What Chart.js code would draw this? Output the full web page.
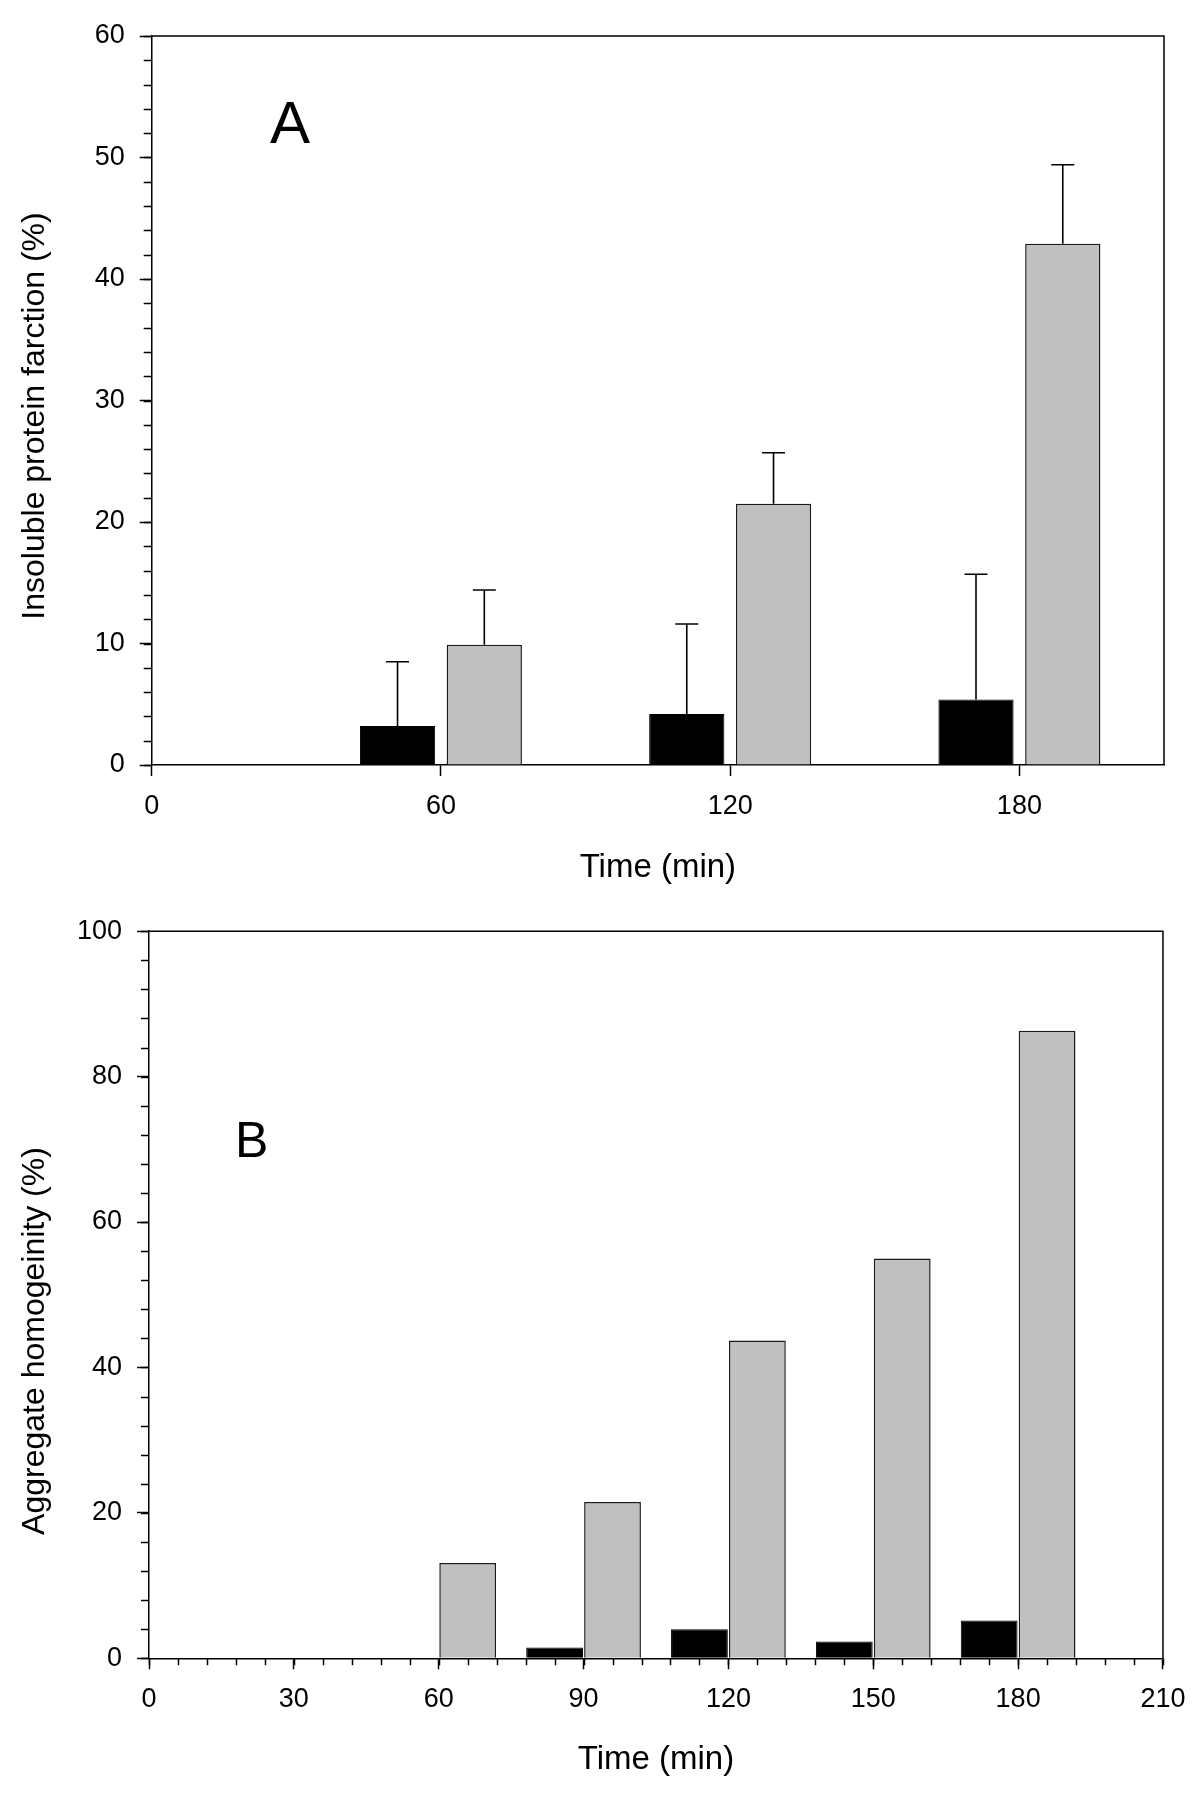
<!DOCTYPE html>
<html>
<head>
<meta charset="utf-8">
<script src="https://cdn.jsdelivr.net/npm/chart.js@4.4.1/dist/chart.umd.min.js"></script>
<style>
  body { margin: 0; background: #fff; }
  .panel { position: absolute; left: 0; width: 1200px; }
  #boxA { top: 0; height: 900px; }
  #boxB { top: 900px; height: 902px; }
</style>
</head>
<body>
<div class="panel" id="boxA"><canvas id="chartA" width="1200" height="900"></canvas></div>
<div class="panel" id="boxB"><canvas id="chartB" width="1200" height="902"></canvas></div>
<script>
// Panel A - insoluble protein fraction
const timesA = [60, 120, 180];
const blackA = [3.2, 4.2, 5.4];
const blackErrA = [5.3, 7.4, 10.3];
const grayA = [9.9, 21.5, 42.9];
const grayErrA = [4.5, 4.2, 6.5];

// Panel B - aggregate homogeneity
const timesB = [60, 90, 120, 150, 180];
const blackB = [null, 1.5, 4.0, 2.3, 5.2];
const grayB = [13.1, 21.5, 43.7, 55.0, 86.3];

const FONT = '"Liberation Sans", Arial, Helvetica, sans-serif';

// error bars (upper half only)
const errorBars = {
    id: 'errorBars',
    afterDatasetsDraw(chart) {
        const ctx = chart.ctx;
        const y = chart.scales.y;
        chart.data.datasets.forEach((ds, di) => {
            if (!ds.errors) return;
            chart.getDatasetMeta(di).data.forEach((bar, i) => {
                const v = ds.data[i].y;
                if (v == null) return;
                const top = y.getPixelForValue(v + ds.errors[i]);
                ctx.save();
                ctx.strokeStyle = '#000';
                ctx.lineWidth = 1.6;
                ctx.beginPath();
                ctx.moveTo(bar.x, bar.y);
                ctx.lineTo(bar.x, top);
                ctx.moveTo(bar.x - 11.5, top);
                ctx.lineTo(bar.x + 11.5, top);
                ctx.stroke();
                ctx.restore();
            });
        });
    }
};

// top/right frame, minor ticks, y title and panel letter
const frame = {
    id: 'frame',
    afterDraw(chart, args, opts) {
        const ctx = chart.ctx;
        const a = chart.chartArea;
        const sx = chart.scales.x, sy = chart.scales.y;
        ctx.save();
        ctx.strokeStyle = '#000';
        ctx.lineWidth = 1.5;
        ctx.beginPath();
        ctx.moveTo(a.left, a.top);
        ctx.lineTo(a.right, a.top);
        ctx.lineTo(a.right, a.bottom);
        ctx.stroke();

        ctx.beginPath();
        if (opts.yMinor) {
            for (let v = sy.min; v <= sy.max + 1e-9; v += opts.yMinor) {
                const p = Math.round(sy.getPixelForValue(v)) + 0.5;
                ctx.moveTo(a.left, p);
                ctx.lineTo(a.left - 8, p);
            }
        }
        if (opts.xMinor) {
            for (let v = sx.min; v <= sx.max + 1e-9; v += opts.xMinor) {
                const p = Math.round(sx.getPixelForValue(v)) + 0.5;
                ctx.moveTo(p, a.bottom);
                ctx.lineTo(p, a.bottom + 7);
            }
        }
        ctx.stroke();

        ctx.fillStyle = '#000';
        ctx.save();
        ctx.translate(opts.titleX, opts.titleY);
        ctx.rotate(-Math.PI / 2);
        ctx.font = '32px ' + FONT;
        ctx.textAlign = 'center';
        ctx.textBaseline = 'middle';
        ctx.fillText(opts.yTitle, 0, 0);
        ctx.restore();

        ctx.font = opts.letterSize + 'px ' + FONT;
        ctx.textAlign = 'left';
        ctx.textBaseline = 'alphabetic';
        ctx.fillText(opts.letter, opts.letterX, opts.letterY);
        ctx.restore();
    }
};

function axisX(step, bounds, tickPad, titlePad, height) {
    return {
        type: 'linear',
        min: 0,
        max: 210,
        offset: false,
        ticks: {
            stepSize: step,
            includeBounds: bounds,
            color: '#000',
            font: { family: FONT, size: 27 },
            padding: tickPad,
            maxRotation: 0,
            autoSkip: false
        },
        grid: { drawOnChartArea: false, offset: false, tickLength: 11, tickWidth: 1.5, tickColor: '#000' },
        border: { color: '#000', width: 1.5 },
        title: {
            display: true,
            text: 'Time (min)',
            color: '#000',
            font: { family: FONT, size: 33 },
            padding: { top: 0, bottom: titlePad }
        },
        afterFit: s => { s.height = height; }
    };
}

function axisY(max, step, width) {
    return {
        min: 0,
        max: max,
        ticks: {
            stepSize: step,
            color: '#000',
            font: { family: FONT, size: 27 },
            padding: 15
        },
        grid: { drawOnChartArea: false, tickLength: 12, tickWidth: 1.5, tickColor: '#000' },
        border: { color: '#000', width: 1.5 },
        afterFit: s => { s.width = width; }
    };
}

const chartA = new Chart(document.getElementById('chartA'), {
    type: 'bar',
    data: {
        datasets: [{
            data: timesA.map((t, i) => ({ x: t, y: blackA[i] })),
            errors: blackErrA,
            backgroundColor: '#000',
            borderColor: '#000',
            borderWidth: 1,
            categoryPercentage: 0.6,
            barPercentage: 0.867
        }, {
            data: timesA.map((t, i) => ({ x: t, y: grayA[i] })),
            errors: grayErrA,
            backgroundColor: '#c0c0c0',
            borderColor: '#1a1a1a',
            borderWidth: 1.5,
            categoryPercentage: 0.6,
            barPercentage: 0.867
        }]
    },
    options: {
        responsive: false,
        animation: false,
        layout: { padding: { top: 36, right: 36, left: 0, bottom: 0 } },
        scales: {
            x: axisX(60, false, 14, 12.7, 135),
            y: axisY(60, 10, 151.7)
        },
        plugins: {
            legend: { display: false },
            tooltip: { enabled: false },
            frame: {
                yMinor: 2, xMinor: 0,
                yTitle: 'Insoluble protein farction (%)', titleX: 35, titleY: 416,
                letter: 'A', letterSize: 60, letterX: 270, letterY: 143
            }
        }
    },
    plugins: [errorBars, frame]
});

const chartB = new Chart(document.getElementById('chartB'), {
    type: 'bar',
    data: {
        datasets: [{
            data: timesB.map((t, i) => ({ x: t, y: blackB[i] })),
            backgroundColor: '#000',
            borderColor: '#000',
            borderWidth: 1,
            categoryPercentage: 0.8,
            barPercentage: 0.98
        }, {
            data: timesB.map((t, i) => ({ x: t, y: grayB[i] })),
            backgroundColor: '#c0c0c0',
            borderColor: '#1a1a1a',
            borderWidth: 1.5,
            categoryPercentage: 0.8,
            barPercentage: 0.98
        }]
    },
    options: {
        responsive: false,
        animation: false,
        layout: { padding: { top: 27.3, right: 37, left: 0, bottom: 0 } },
        scales: {
            x: axisX(30, true, 14.5, 22.7, 143.7),
            y: axisY(100, 20, 149)
        },
        plugins: {
            legend: { display: false },
            tooltip: { enabled: false },
            frame: {
                yMinor: 4, xMinor: 6,
                yTitle: 'Aggregate homogeinity (%)', titleX: 35, titleY: 441,
                letter: 'B', letterSize: 50, letterX: 235, letterY: 257
            }
        }
    },
    plugins: [frame]
});
</script>
</body>
</html>
